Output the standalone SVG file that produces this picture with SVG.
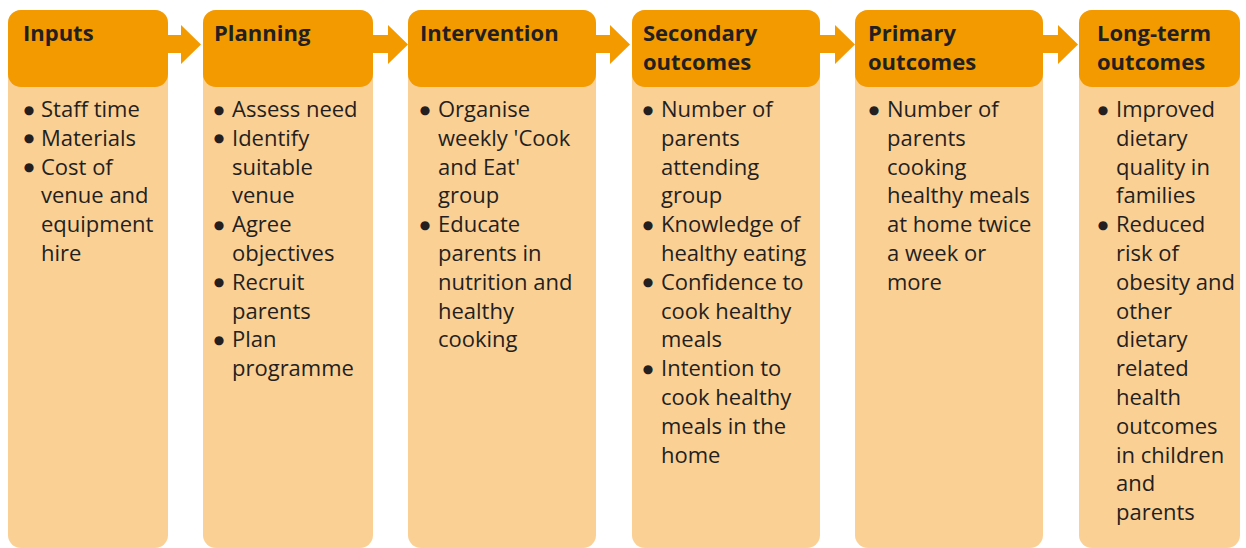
<svg xmlns="http://www.w3.org/2000/svg" width="1246" height="548" viewBox="0 0 1246 548">
<style>
.body{fill:#fbd095}
.head{fill:#f39a00}
.arr{fill:#f39a00}
.t{font-family:"Open Sans","Noto Sans",sans-serif;font-size:22px;font-weight:bold;fill:#231f20}
.b{font-family:"Open Sans","Noto Sans",sans-serif;font-size:22px;fill:#231f20}
.d{font-family:"DejaVu Sans",sans-serif;font-size:12px;fill:#231f20;text-anchor:middle}
</style>
<rect width="1246" height="548" fill="#ffffff"/>
<g id="connectors">
<polygon class="arr" points="166,35 181,35 181,25 201,44.5 181,64 181,53 166,53"/>
<polygon class="arr" points="372,35 388,35 388,25 408,44.5 388,64 388,53 372,53"/>
<polygon class="arr" points="595,35 610,35 610,25 630,44.5 610,64 610,53 595,53"/>
<polygon class="arr" points="819,35 835,35 835,25 855,44.5 835,64 835,53 819,53"/>
<polygon class="arr" points="1042,35 1058,35 1058,25 1078,44.5 1058,64 1058,53 1042,53"/>
</g>
<g id="inputs">
<rect class="body" x="8" y="10" width="160" height="538" rx="13"/>
<rect class="head" x="8" y="10" width="160" height="77" rx="13"/>
<text class="t" x="23" y="41">Inputs</text>
<text class="d"><tspan x="29" y="113.5">●</tspan><tspan x="29" y="142.3">●</tspan><tspan x="29" y="171.1">●</tspan></text>
<text class="b"><tspan x="41" y="117">Staff time</tspan><tspan x="41" y="145.8">Materials</tspan><tspan x="41" y="174.6">Cost of</tspan><tspan x="41" y="203.4">venue and</tspan><tspan x="41" y="232.2">equipment</tspan><tspan x="41" y="261">hire</tspan></text>
</g>
<g id="planning">
<rect class="body" x="203" y="10" width="170" height="538" rx="13"/>
<rect class="head" x="203" y="10" width="170" height="77" rx="13"/>
<text class="t" x="214" y="41">Planning</text>
<text class="d"><tspan x="219" y="113.5">●</tspan><tspan x="219" y="142.3">●</tspan><tspan x="219" y="228.7">●</tspan><tspan x="219" y="286.3">●</tspan><tspan x="219" y="343.9">●</tspan></text>
<text class="b"><tspan x="232" y="117">Assess need</tspan><tspan x="232" y="145.8">Identify</tspan><tspan x="232" y="174.6">suitable</tspan><tspan x="232" y="203.4">venue</tspan><tspan x="232" y="232.2">Agree</tspan><tspan x="232" y="261">objectives</tspan><tspan x="232" y="289.8">Recruit</tspan><tspan x="232" y="318.6">parents</tspan><tspan x="232" y="347.4">Plan</tspan><tspan x="232" y="376.2">programme</tspan></text>
</g>
<g id="intervention">
<rect class="body" x="408" y="10" width="188" height="538" rx="13"/>
<rect class="head" x="408" y="10" width="188" height="77" rx="13"/>
<text class="t" x="420" y="41">Intervention</text>
<text class="d"><tspan x="425" y="113.5">●</tspan><tspan x="425" y="228.7">●</tspan></text>
<text class="b"><tspan x="438" y="117">Organise</tspan><tspan x="438" y="145.8">weekly 'Cook</tspan><tspan x="438" y="174.6">and Eat'</tspan><tspan x="438" y="203.4">group</tspan><tspan x="438" y="232.2">Educate</tspan><tspan x="438" y="261">parents in</tspan><tspan x="438" y="289.8">nutrition and</tspan><tspan x="438" y="318.6">healthy</tspan><tspan x="438" y="347.4">cooking</tspan></text>
</g>
<g id="secondary">
<rect class="body" x="632" y="10" width="188" height="538" rx="13"/>
<rect class="head" x="632" y="10" width="188" height="77" rx="13"/>
<text class="t"><tspan x="643" y="41">Secondary</tspan><tspan x="643" y="70">outcomes</tspan></text>
<text class="d"><tspan x="648" y="113.5">●</tspan><tspan x="648" y="228.7">●</tspan><tspan x="648" y="286.3">●</tspan><tspan x="648" y="372.7">●</tspan></text>
<text class="b"><tspan x="661" y="117">Number of</tspan><tspan x="661" y="145.8">parents</tspan><tspan x="661" y="174.6">attending</tspan><tspan x="661" y="203.4">group</tspan><tspan x="661" y="232.2">Knowledge of</tspan><tspan x="661" y="261">healthy eating</tspan><tspan x="661" y="289.8">Confidence to</tspan><tspan x="661" y="318.6">cook healthy</tspan><tspan x="661" y="347.4">meals</tspan><tspan x="661" y="376.2">Intention to</tspan><tspan x="661" y="405">cook healthy</tspan><tspan x="661" y="433.8">meals in the</tspan><tspan x="661" y="462.6">home</tspan></text>
</g>
<g id="primary">
<rect class="body" x="855" y="10" width="188" height="538" rx="13"/>
<rect class="head" x="855" y="10" width="188" height="77" rx="13"/>
<text class="t"><tspan x="868" y="41">Primary</tspan><tspan x="868" y="70">outcomes</tspan></text>
<text class="d"><tspan x="874" y="113.5">●</tspan></text>
<text class="b"><tspan x="887" y="117">Number of</tspan><tspan x="887" y="145.8">parents</tspan><tspan x="887" y="174.6">cooking</tspan><tspan x="887" y="203.4">healthy meals</tspan><tspan x="887" y="232.2">at home twice</tspan><tspan x="887" y="261">a week or</tspan><tspan x="887" y="289.8">more</tspan></text>
</g>
<g id="longterm">
<rect class="body" x="1079" y="10" width="161" height="538" rx="13"/>
<rect class="head" x="1079" y="10" width="161" height="77" rx="13"/>
<text class="t"><tspan x="1097" y="41">Long-term</tspan><tspan x="1097" y="70">outcomes</tspan></text>
<text class="d"><tspan x="1103" y="113.5">●</tspan><tspan x="1103" y="228.7">●</tspan></text>
<text class="b"><tspan x="1116" y="117">Improved</tspan><tspan x="1116" y="145.8">dietary</tspan><tspan x="1116" y="174.6">quality in</tspan><tspan x="1116" y="203.4">families</tspan><tspan x="1116" y="232.2">Reduced</tspan><tspan x="1116" y="261">risk of</tspan><tspan x="1116" y="289.8">obesity and</tspan><tspan x="1116" y="318.6">other</tspan><tspan x="1116" y="347.4">dietary</tspan><tspan x="1116" y="376.2">related</tspan><tspan x="1116" y="405">health</tspan><tspan x="1116" y="433.8">outcomes</tspan><tspan x="1116" y="462.6">in children</tspan><tspan x="1116" y="491.4">and</tspan><tspan x="1116" y="520.2">parents</tspan></text>
</g>
</svg>
